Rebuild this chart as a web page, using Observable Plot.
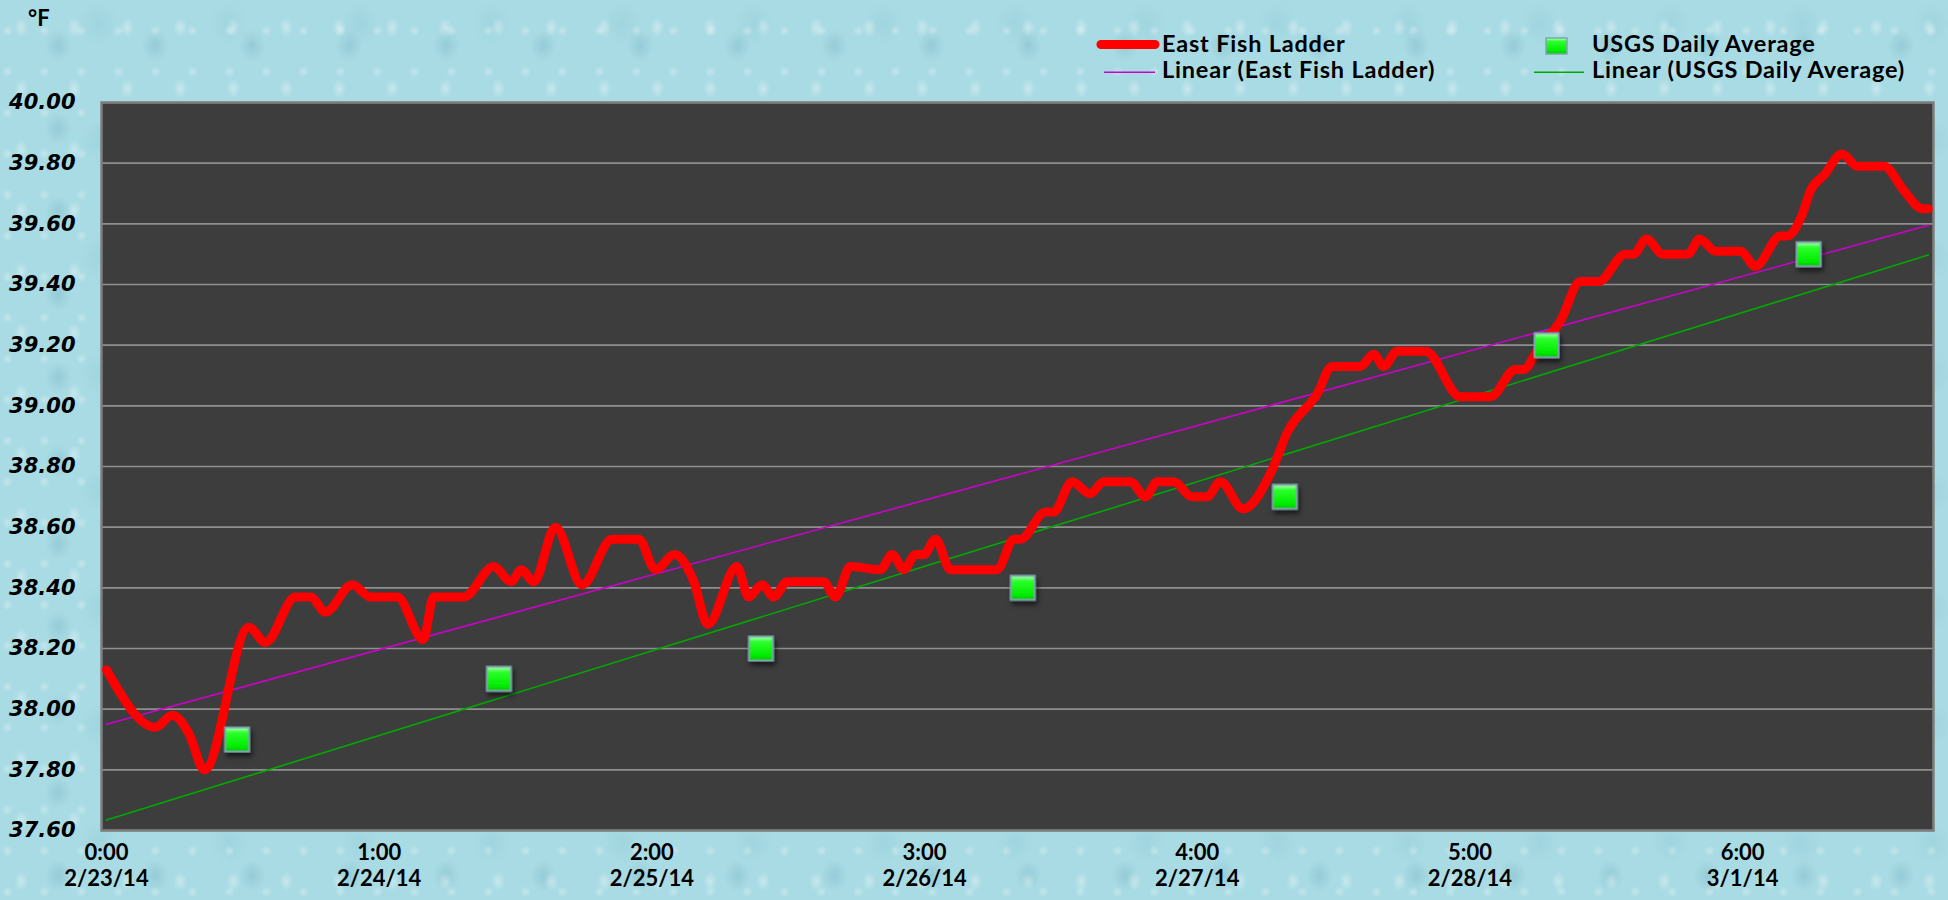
<!DOCTYPE html>
<html><head><meta charset="utf-8">
<script src="https://cdn.jsdelivr.net/npm/d3@7"></script>
<script src="https://cdn.jsdelivr.net/npm/@observablehq/plot@0.6"></script>
<style>
html,body{margin:0;padding:0;}
body{width:1948px;height:900px;overflow:hidden;position:relative;
  background-color:#a9dbe4;
  background-image:
    radial-gradient(ellipse 10px 14px at 40% 45%, rgba(255,255,255,.35), rgba(255,255,255,0) 70%),
    radial-gradient(ellipse 18px 22px at 60% 55%, rgba(80,150,170,.22), rgba(80,150,170,0) 75%),
    radial-gradient(ellipse 8px 8px at 20% 75%, rgba(255,255,255,.3), rgba(255,255,255,0) 70%),
    radial-gradient(ellipse 26px 30px at 75% 20%, rgba(120,185,200,.18), rgba(120,185,200,0) 75%);
  background-size:53px 61px, 97px 83px, 37px 41px, 131px 117px;}
#chart{position:absolute;left:0;top:0;}
#legend{position:absolute;left:0;top:0;}
.unit{position:absolute;left:28px;top:4px;font:bold 22px Lato,"Liberation Sans",sans-serif;color:#000;}
</style></head>
<body>
<svg width="0" height="0" style="position:absolute">
  <defs>
    <linearGradient id="usgsGrad" x1="0" y1="0" x2="0" y2="1">
      <stop offset="0" stop-color="#b5ffc0"/>
      <stop offset="0.22" stop-color="#2cff2c"/>
      <stop offset="0.8" stop-color="#00ec00"/>
      <stop offset="1" stop-color="#00c400"/>
    </linearGradient>
    <filter id="usgsShadow" x="-50%" y="-50%" width="200%" height="200%">
      <feDropShadow dx="2" dy="4" stdDeviation="2.5" flood-color="#000" flood-opacity="0.6"/>
    </filter>
  </defs>
</svg>
<div id="chart"></div>
<div class="unit">°F</div>
<svg id="legend" width="1948" height="100"></svg>
<script>
// ---- data ----
const eastDays = [0.000,0.180,0.241,0.302,0.359,0.522,0.583,0.693,0.748,0.803,0.901,0.968,1.066,1.161,1.200,1.310,1.420,1.484,1.521,1.567,1.646,1.744,1.854,1.952,2.013,2.083,2.154,2.205,2.312,2.355,2.404,2.447,2.496,2.630,2.673,2.728,2.838,2.881,2.924,2.967,2.997,3.040,3.095,3.266,3.327,3.352,3.443,3.473,3.541,3.606,3.657,3.755,3.810,3.853,3.914,3.981,4.036,4.085,4.168,4.275,4.329,4.440,4.494,4.598,4.647,4.684,4.733,4.837,4.965,5.075,5.167,5.197,5.246,5.332,5.405,5.472,5.570,5.600,5.647,5.708,5.799,5.842,5.900,5.992,6.047,6.139,6.163,6.218,6.249,6.298,6.365,6.420,6.518,6.591,6.659,6.681];
const eastTemps = [38.13,37.94,37.98,37.92,37.80,38.27,38.22,38.37,38.37,38.32,38.41,38.37,38.37,38.23,38.37,38.37,38.47,38.42,38.46,38.42,38.60,38.41,38.56,38.56,38.46,38.51,38.42,38.28,38.47,38.37,38.41,38.37,38.42,38.42,38.37,38.47,38.46,38.51,38.46,38.51,38.51,38.56,38.46,38.46,38.56,38.56,38.65,38.65,38.75,38.71,38.75,38.75,38.70,38.75,38.75,38.70,38.70,38.75,38.66,38.79,38.91,39.04,39.13,39.13,39.17,39.13,39.18,39.18,39.03,39.03,39.12,39.12,39.18,39.28,39.41,39.41,39.50,39.50,39.55,39.50,39.50,39.55,39.51,39.51,39.46,39.56,39.56,39.63,39.71,39.76,39.83,39.79,39.79,39.71,39.65,39.65];
const usgsDays = [0.479,1.439,2.400,3.360,4.321,5.281,6.242];
const usgsTemps = [37.90,38.10,38.20,38.40,38.70,39.20,39.50];
const eastTrendEnds = [37.95, 39.595];   // Excel linear trendline of East Fish Ladder (start, end)
const yTicks = [37.6,37.8,38.0,38.2,38.4,38.6,38.8,39.0,39.2,39.4,39.6,39.8,40.0];
const xTicks = [0,1,2,3,4,5,6];
const hourLabels = ["0:00","1:00","2:00","3:00","4:00","5:00","6:00"];
const dateLabels = ["2/23/14","2/24/14","2/25/14","2/26/14","2/27/14","2/28/14","3/1/14"];
const seriesNames = ["East Fish Ladder","Linear (East Fish Ladder)","USGS Daily Average","Linear (USGS Daily Average)"];

// ---- derived tables ----
const east = eastDays.map((d,i)=>({day:d, temp:eastTemps[i]}));
const usgs = usgsDays.map((d,i)=>({day:d, temp:usgsTemps[i]}));
const [x0, x1] = d3.extent(eastDays);
const mx = d3.mean(usgsDays), my = d3.mean(usgsTemps);
const slope = d3.sum(usgsDays,(x,i)=>(x-mx)*(usgsTemps[i]-my)) / d3.sum(usgsDays,x=>(x-mx)**2);
const icpt = my - slope*mx;
const usgsTrend = [x0,x1].map(d=>({day:d, temp:icpt+slope*d}));
const eastTrend = [x0,x1].map((d,i)=>({day:d, temp:eastTrendEnds[i]}));

const labelFont = "Lato, 'Liberation Sans', sans-serif";

const chart = Plot.plot({
  width:1948, height:900,
  marginLeft:101, marginRight:15, marginTop:102, marginBottom:70,
  x:{domain:[-0.0183, 6.70], axis:null},
  y:{domain:[37.6, 40.0], axis:null},
  style:{background:"transparent", overflow:"visible"},
  marks:[
    Plot.frame({fill:"#3d3d3d"}),
    Plot.gridY(yTicks, {stroke:"#8f8f8f", strokeOpacity:1, strokeWidth:1.7}),
    Plot.frame({stroke:"#7e7e7e", strokeWidth:2.5}),
    Plot.axisY(yTicks, {tickSize:0, tickPadding:26, tickFormat:d3.format(".2f"),
      fontSize:21, fontWeight:"bold", fontStyle:"italic", fontFamily:"'DejaVu Sans', sans-serif",
      fill:"#000", label:null}),
    Plot.text(xTicks, {x:d=>d, text:(d,i)=>hourLabels[i], frameAnchor:"bottom", dy:29,
      fontSize:22, fontWeight:"bold", fontFamily:labelFont, fill:"#000"}),
    Plot.text(xTicks, {x:d=>d, text:(d,i)=>dateLabels[i], frameAnchor:"bottom", dy:55,
      fontSize:22, fontWeight:"bold", fontFamily:labelFont, fill:"#000"}),
    Plot.line(eastTrend, {x:"day", y:"temp", stroke:"#cc00cc", strokeWidth:1.6}),
    Plot.line(usgsTrend, {x:"day", y:"temp", stroke:"#00a800", strokeWidth:1.6}),
    Plot.line(east, {x:"day", y:"temp", stroke:"#ff0000", strokeWidth:9, curve:"monotone-x",
      strokeLinecap:"round", strokeLinejoin:"round"}),
    Plot.dot(usgs, {x:"day", y:"temp", symbol:"square", r:13.5, fill:"url(#usgsGrad)",
      stroke:"#7fa6ae", strokeWidth:2})
  ]
});
document.getElementById("chart").appendChild(chart);
chart.querySelectorAll('g[aria-label="dot"]').forEach(g=>g.setAttribute("filter","url(#usgsShadow)"));

// ---- legend ----
const lg = d3.select("#legend");
const tf = t => t.attr("font-family", labelFont).attr("font-weight","bold").attr("font-size",23.5)
  .attr("letter-spacing","0.8px").attr("fill","#000");
lg.append("line").attr("x1",1101).attr("x2",1155).attr("y1",44.5).attr("y2",44.5)
  .attr("stroke","#ff0000").attr("stroke-width",9).attr("stroke-linecap","round");
tf(lg.append("text").attr("x",1162).attr("y",52).text(seriesNames[0]));
lg.append("line").attr("x1",1104).attr("x2",1155).attr("y1",72.3).attr("y2",72.3)
  .attr("stroke","#cc00cc").attr("stroke-width",1.6);
tf(lg.append("text").attr("x",1162).attr("y",78).text(seriesNames[1]));
lg.append("rect").attr("x",1546).attr("y",38).attr("width",21).attr("height",16)
  .attr("fill","url(#usgsGrad)").attr("stroke","#7fa6ae").attr("stroke-width",1.5);
tf(lg.append("text").attr("x",1592).attr("y",52).text(seriesNames[2]));
lg.append("line").attr("x1",1534).attr("x2",1584).attr("y1",72.3).attr("y2",72.3)
  .attr("stroke","#00a800").attr("stroke-width",1.6);
tf(lg.append("text").attr("x",1592).attr("y",78).text(seriesNames[3]));
</script>
</body></html>
